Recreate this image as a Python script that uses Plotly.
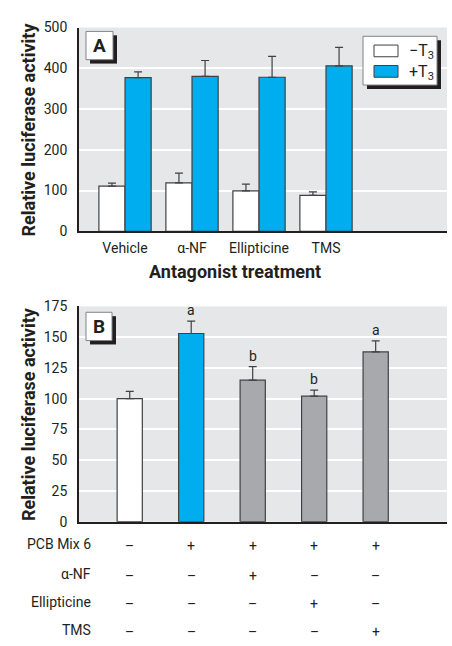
import plotly.graph_objects as go

W, H = 452, 646

# ---- Data: panel A ----
cats_a = ["Vehicle", "α-NF", "Ellipticine", "TMS"]
minus_t3 = [111, 119, 99, 88]
minus_t3_err = [7, 24, 17, 9]
plus_t3 = [377, 380, 378, 406]
plus_t3_err = [14, 39, 51, 45]
yticks_a = [0, 100, 200, 300, 400, 500]

# ---- Data: panel B ----
cats_b = [0, 1, 2, 3, 4]
vals_b = [100, 153, 115, 102, 138]
err_b = [6, 10, 11, 5, 9]
sig_b = ["", "a", "b", "b", "a"]
yticks_b = [0, 25, 50, 75, 100, 125, 150, 175]
row_labels = ["PCB Mix 6", "α-NF", "Ellipticine", "TMS"]
row_signs = [
    ["–", "+", "+", "+", "+"],
    ["–", "–", "+", "–", "–"],
    ["–", "–", "–", "+", "–"],
    ["–", "–", "–", "–", "+"],
]

BLUE = "#00aeef"
GREY = "#a7a9ac"
WHITE = "#ffffff"
BG = "#e6e7e8"
DARK = "#231f20"
OUT = "#414042"
FONT = "Roboto, Liberation Sans, sans-serif"


def fx(px):
    return px / W


def fy(py):
    return 1 - py / H


fig = go.Figure()

fig.add_trace(go.Bar(
    x=cats_a, y=minus_t3, name="−T3", xaxis="x", yaxis="y",
    marker=dict(color=WHITE, line=dict(color=OUT, width=1.2)),
    error_y=dict(type="data", symmetric=False, array=minus_t3_err,
                 arrayminus=[0] * 4, color=OUT, thickness=1.2, width=4),
    showlegend=False,
))
fig.add_trace(go.Bar(
    x=cats_a, y=plus_t3, name="+T3", xaxis="x", yaxis="y",
    marker=dict(color=BLUE, line=dict(color=OUT, width=1.2)),
    error_y=dict(type="data", symmetric=False, array=plus_t3_err,
                 arrayminus=[0] * 4, color=OUT, thickness=1.2, width=4),
    showlegend=False,
))
fig.add_trace(go.Bar(
    x=cats_b, y=vals_b, xaxis="x2", yaxis="y2", width=0.41,
    marker=dict(color=[WHITE, BLUE, GREY, GREY, GREY], line=dict(color=OUT, width=1.2)),
    error_y=dict(type="data", symmetric=False, array=err_b,
                 arrayminus=[0] * 5, color=OUT, thickness=1.2, width=4),
    showlegend=False,
))

axis_common = dict(showline=True, linecolor=DARK, linewidth=1.8, ticks="")

fig.update_layout(
    width=W, height=H,
    margin=dict(l=0, r=0, t=0, b=0),
    paper_bgcolor="white", plot_bgcolor=BG,
    barmode="group", bargap=0.22, bargroupgap=0,
    font=dict(family=FONT, color=DARK),
    xaxis=dict(domain=[fx(79), fx(447)], anchor="y", type="category",
               range=[-0.687, 4.806], showgrid=False, **axis_common,
               tickfont=dict(family=FONT, size=14, color=DARK),
               ticklabelstandoff=3),
    yaxis=dict(domain=[fy(229), fy(20)], anchor="x", range=[0, 500],
               tickvals=yticks_a, showgrid=True, gridcolor="white", gridwidth=1.5,
               zeroline=False, **axis_common,
               tickfont=dict(family=FONT, size=14, color=DARK), ticklabelstandoff=7),
    xaxis2=dict(domain=[fx(79), fx(447)], anchor="y2", range=[-0.825, 5.16],
                showticklabels=False, showgrid=False, zeroline=False, **axis_common),
    yaxis2=dict(domain=[fy(526.7), fy(306)], anchor="x2", range=[0, 175],
                tickvals=yticks_b, showgrid=True, gridcolor="white", gridwidth=1.5,
                zeroline=False, **axis_common,
                tickfont=dict(family=FONT, size=14, color=DARK), ticklabelstandoff=7),
)

ann = []
shapes = []


def text(t, x, y, size, xanchor="center", yanchor="middle", bold=False, angle=0,
         xref="paper", yref="paper"):
    ann.append(dict(text=("<b>%s</b>" % t) if bold else t, xref=xref, yref=yref,
                    x=x, y=y, xanchor=xanchor, yanchor=yanchor, textangle=angle,
                    showarrow=False, font=dict(family=FONT, size=size, color=DARK)))


# axis titles
for yc in [(20 + 229) / 2, (306 + 526.7) / 2]:
    text("Relative luciferase activity", fx(28), fy(yc), 18, bold=True, angle=-90)
text("Antagonist treatment", fx(235), fy(270), 18, bold=True)


# panel label boxes
def label_box(x0, y0, x1, y1, letter):
    shapes.append(dict(type="rect", xref="paper", yref="paper",
                       x0=fx(x0 + 4), x1=fx(x1 + 4), y0=fy(y1 + 4), y1=fy(y0 + 4),
                       fillcolor=DARK, line=dict(width=0), layer="above"))
    shapes.append(dict(type="rect", xref="paper", yref="paper",
                       x0=fx(x0), x1=fx(x1), y0=fy(y1), y1=fy(y0),
                       fillcolor="white", line=dict(color="#808285", width=1), layer="above"))
    text(letter, fx((x0 + x1) / 2), fy((y0 + y1) / 2), 19, bold=True)


label_box(86, 24, 113, 53, "A")
label_box(86, 312, 112, 341, "B")

# legend box
lx0, ly0, lx1, ly1 = 363, 29, 437, 79
shapes.append(dict(type="rect", xref="paper", yref="paper",
                   x0=fx(lx0 + 4), x1=fx(lx1 + 4), y0=fy(ly1 + 4), y1=fy(ly0 + 4),
                   fillcolor=DARK, line=dict(width=0), layer="above"))
shapes.append(dict(type="rect", xref="paper", yref="paper",
                   x0=fx(lx0), x1=fx(lx1), y0=fy(ly1), y1=fy(ly0),
                   fillcolor="white", line=dict(color="#808285", width=1), layer="above"))
for (sy0, sy1, col, txt) in [(38, 50, WHITE, "−T<sub>3</sub>"), (59, 71, BLUE, "+T<sub>3</sub>")]:
    shapes.append(dict(type="rect", xref="paper", yref="paper",
                       x0=fx(374), x1=fx(398), y0=fy(sy1), y1=fy(sy0),
                       fillcolor=col, line=dict(color=OUT, width=1), layer="above"))
    text(txt, fx(407), fy((sy0 + sy1) / 2 + 1), 16, xanchor="left")

# significance letters
for xi, v, e, s in zip(cats_b, vals_b, err_b, sig_b):
    if s:
        ann.append(dict(text=s, xref="x2", yref="y2", x=xi, y=v + e, yanchor="bottom",
                        xanchor="center", yshift=1, showarrow=False,
                        font=dict(family=FONT, size=14, color=DARK)))

# treatment table
row_y = [550, 580, 609, 638]
for lbl, yy, signs in zip(row_labels, row_y, row_signs):
    text(lbl, fx(93), fy(yy), 14, xanchor="right")
    for xi, s in zip(cats_b, signs):
        text(s, xi, fy(yy + 2), 14, xref="x2")

fig.update_layout(annotations=ann, shapes=shapes)
fig.write_html("out.html", config={"displayModeBar": False},
               post_script="document.body.style.margin='0';document.body.style.overflow='hidden';")
